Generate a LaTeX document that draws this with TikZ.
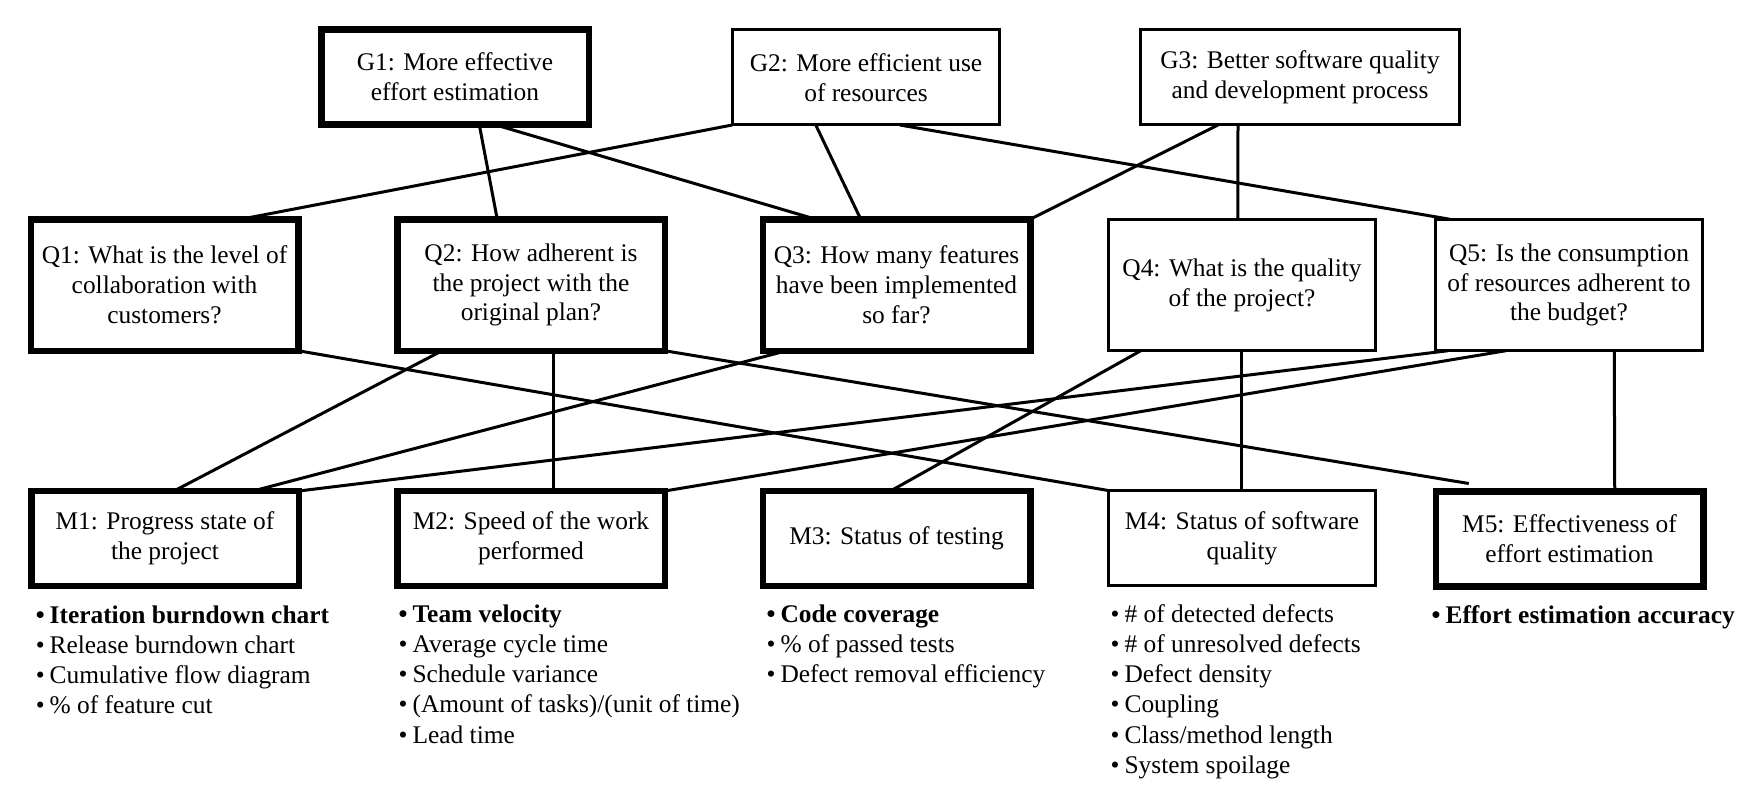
\documentclass[tikz,border=0pt]{standalone}
\usepackage{fontspec}
\setmainfont{Liberation Serif}
\newcommand\myfs{\fontsize{25.4}{29.8}\selectfont}
\newcommand\mylfs{\fontsize{25.4}{30.3}\selectfont}
\newcommand\firstln{\rule{0pt}{20pt}}
\newcommand\bul{\textbullet\hspace{5pt}}
\begin{document}
\begin{tikzpicture}[x=1pt,y=-1pt,
  box/.style={draw, rectangle, inner sep=0pt, outer sep=0pt, align=center,
    minimum width=267.5pt, font=\myfs},
  boxb/.style={box, line width=6.5pt},
  boxt/.style={box, line width=3pt},
  gh/.style={minimum height=95pt},
  qh/.style={minimum height=131.5pt},
  mh/.style={minimum height=95pt},
  link/.style={line width=3pt},
  list/.style={anchor=north west, inner sep=0pt, outer sep=0pt, align=left, font=\mylfs}]
\useasboundingbox (0,0) rectangle (1759,797);

% goals
\node[boxb, gh] (G1) at (455,77) {G1: More effective\\effort estimation};
\node[boxt, gh] (G2) at (866,77.5) {G2: More efficient use\\of resources};
\node[boxt, gh, minimum width=319pt] (G3) at (1300,77.5) {G3: Better software quality\\and development process};
% questions
\node[boxb, qh] (Q1) at (164.5,285) {Q1: What is the level of\\collaboration with\\customers?};
\node[boxb, qh] (Q2) at (531,285) {Q2: How adherent is\\the project with the\\original plan?};
\node[boxb, qh] (Q3) at (896.5,285) {Q3: How many features\\have been implemented\\so far?};
\node[boxt, qh] (Q4) at (1242,285) {Q4: What is the quality\\of the project?};
\node[boxt, qh] (Q5) at (1569,285) {Q5: Is the consumption\\of resources adherent to\\the budget?};
% metrics
\node[boxb, mh] (M1) at (165,538.5) {M1: Progress state of\\the project};
\node[boxb, mh] (M2) at (531,538.5) {M2: Speed of the work\\performed};
\node[boxb, mh] (M3) at (896.5,538.5) {M3: Status of testing};
\node[boxt, mh] (M4) at (1242,538) {M4: Status of software\\quality};
\node[boxb, mh] (M5) at (1569.5,539) {M5: Effectiveness of\\effort estimation};

% goal -> question links
\draw[link] (G2.south west) -- ([xshift=210pt]Q1.north west);
\draw[link] ([xshift=158pt]G1.south west) -- ([xshift=100pt]Q2.north west);
\draw[link] ([xshift=173pt]G1.south west) -- ([xshift=53pt]Q3.north west);
\draw[link] ([xshift=83.5pt]G2.south west) -- ([xshift=98pt]Q3.north west);
\draw[link] ([xshift=167.5pt]G2.south west) -- ([xshift=14.5pt]Q5.north west);
\draw[link] ([xshift=77.5pt]G3.south west) -- (Q3.north east);
\draw[link] ([xshift=97.5pt]G3.south west) -- ([xshift=129.5pt]Q4.north west);

% question -> metric links
\draw[link] (Q1.south east) -- (M4.north west);
\draw[link] ([xshift=44.75pt]Q2.south west) -- ([xshift=142.75pt]M1.north west);
\draw[link] ([xshift=155.75pt]Q2.south west) -- ([xshift=155.75pt]M2.north west);
\draw[link] (Q2.south east) -- ([xshift=33pt,yshift=8pt]M5.north west);
\draw[link] ([xshift=23.75pt]Q3.south west) -- ([xshift=221.75pt]M1.north west);
\draw[link] ([xshift=32.5pt]Q4.south west) -- ([xshift=127.75pt]M3.north west);
\draw[link] ([xshift=133.5pt]Q4.south west) -- ([xshift=133.5pt]M4.north west);
\draw[link] ([xshift=12.5pt]Q5.south west) -- (M1.north east);
\draw[link] ([xshift=70.5pt]Q5.south west) -- (M2.north east);
\draw[link] ([xshift=179pt]Q5.south west) -- ([xshift=179pt]M5.north west);

% metric lists
\node[list] (L1) at (35.8,603) {\firstln\textbf{\bul Iteration burndown chart}\\
  \bul Release burndown chart\\
  \bul Cumulative flow diagram\\
  \bul \% of feature cut};
\node[list] (L2) at (398.7,602) {\firstln\textbf{\bul Team velocity}\\
  \bul Average cycle time\\
  \bul Schedule variance\\
  \bul (Amount of tasks)/(unit of time)\\
  \bul Lead time};
\node[list] (L3) at (766.7,602) {\firstln\textbf{\bul Code coverage}\\
  \bul \% of passed tests\\
  \bul Defect removal efficiency};
\node[list] (L4) at (1110.7,602) {\firstln\bul \# of detected defects\\
  \bul \# of unresolved defects\\
  \bul Defect density\\
  \bul Coupling\\
  \bul Class/method length\\
  \bul System spoilage};
\node[list] (L5) at (1431.7,603) {\firstln\textbf{\bul Effort estimation accuracy}};
\end{tikzpicture}
\end{document}
